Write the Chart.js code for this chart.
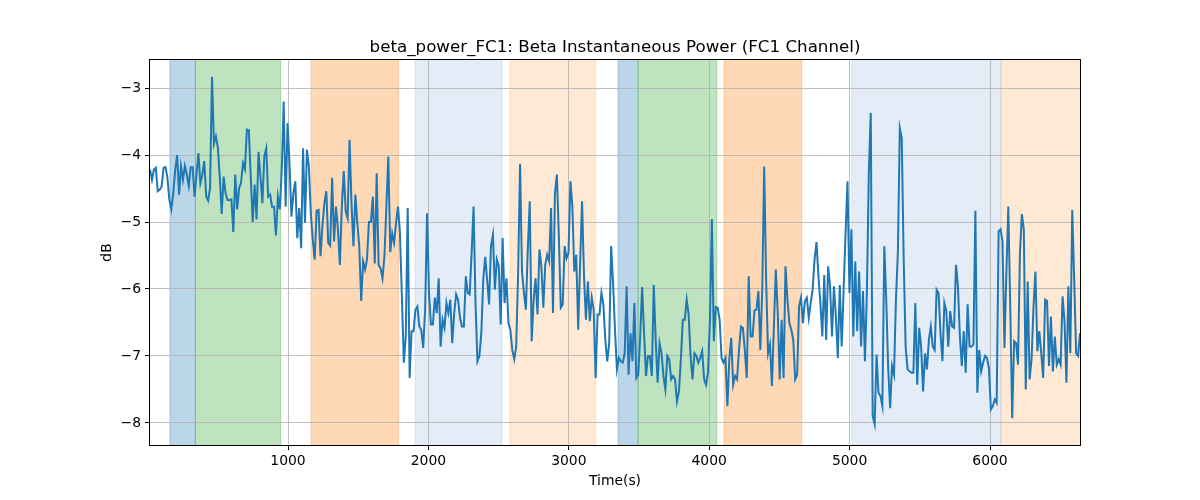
<!DOCTYPE html>
<html>
<head>
<meta charset="utf-8">
<title>beta_power_FC1</title>
<script src="https://cdn.jsdelivr.net/npm/chart.js@4.4.0/dist/chart.umd.min.js"></script>
<style>
  html, body { margin: 0; padding: 0; background: #fff; }
  canvas { display: block; }
</style>
</head>
<body>
<canvas id="betaChart" width="1200" height="500"></canvas>
<script>
// sampling grid of the recording (seconds)
const tStart = 17;
const tStep = 13.8;

// beta power, dB
const betaPower = [
  -4.22,-4.37,-4.22,-4.19,-4.54,-4.52,-4.47,-4.19,-4.18,-4.34,
  -4.67,-4.81,-4.57,-4.22,-4.00,-4.59,-4.17,-4.37,-4.16,-4.29,
  -4.46,-4.18,-4.18,-4.62,-4.29,-3.97,-4.42,-4.29,-4.09,-4.62,
  -4.68,-4.49,-2.83,-3.83,-3.72,-3.88,-4.32,-4.88,-4.32,-4.57,
  -4.67,-4.67,-4.66,-5.15,-4.29,-4.81,-4.49,-4.41,-4.12,-4.21,
  -3.62,-3.63,-4.32,-5.00,-4.44,-4.96,-3.95,-4.32,-4.72,-4.02,
  -3.90,-4.62,-4.59,-4.77,-4.77,-5.20,-4.62,-4.81,-4.22,-3.20,
  -4.77,-3.52,-4.12,-4.92,-4.57,-4.39,-5.24,-4.79,-5.39,-3.90,
  -5.01,-3.92,-4.17,
  -4.87,-5.26,-5.56,-4.83,-4.82,-5.51,-5.06,-4.72,-4.54,-5.31,
  -5.35,-4.34,-5.29,-4.77,-5.11,-5.64,-4.77,-4.24,-4.84,-4.94,
  -3.77,-4.72,-5.36,-4.59,-5.01,-5.36,-6.18,-5.59,-5.71,-5.56,
  -5.00,-5.00,-4.62,-5.62,-4.27,-5.64,-5.69,-5.84,-5.51,-4.77,
  -4.02,-5.45,-5.17,-5.31,-5.01,-4.77,-5.16,-6.11,-7.10,-6.71,
  -4.79,-7.33,-6.63,-6.63,-6.31,-6.26,-6.56,-6.61,-6.88,-6.31,
  -4.87,-6.06,-6.53,-6.53,-6.13,-6.36,-5.84,-6.86,-6.46,-6.58,
  -6.21,-6.36,-6.16,-6.81,-6.36,-6.08,-6.16,
  -6.43,-6.56,-6.56,-5.81,-6.06,-6.08,-5.46,-4.77,-6.21,-7.08,
  -7.00,-6.66,-5.86,-5.52,-5.86,-6.23,-5.36,-5.19,-6.01,-5.56,
  -5.66,-6.53,-5.24,-6.21,-5.84,-6.51,-6.61,-6.91,-7.05,-6.86,
  -5.76,-4.13,-5.74,-6.06,-6.31,-5.39,-4.69,-6.78,-6.16,-5.84,
  -6.38,-5.41,-5.66,-6.28,-5.64,-5.49,-5.59,-4.79,-6.36,-4.57,
  -4.29,-5.19,-6.28,-6.23,-5.36,-5.54,-5.46,-4.39,-4.77,-5.74,
  -5.49,-6.61,-5.61,-4.69,-5.81,-6.46,-5.89,-6.48,-6.13,-6.31,
  -7.33,-6.38,-6.38,-6.06,-6.23,-6.76,-7.08,-6.81,
  -5.36,-5.91,-6.61,-7.20,-7.03,-7.08,-7.10,-6.96,-5.96,-7.28,
  -6.66,-7.08,-6.21,-7.33,-7.28,-6.71,-5.97,-6.66,-7.30,-7.00,
  -7.00,-7.30,-5.94,-6.76,-7.40,-6.81,-6.96,-7.30,-7.50,-7.00,
  -7.05,-7.35,-7.30,-7.35,-7.68,-7.53,-7.05,-6.46,-6.46,-6.16,
  -6.38,-7.00,-7.35,-6.96,-7.00,-7.10,-7.03,-6.93,-7.35,-7.43,
  -7.25,-6.46,-4.96,-6.78,-6.27,-6.28,-6.46,-7.03,-7.10,-7.03,
  -7.75,-7.05,-6.73,-7.43,-7.30,-7.35,-6.91,-6.56,-6.58,-6.91,
  -7.33,-5.81,-6.71,-6.71,-6.32,-6.31,-6.03,-6.91,-6.01,
  -4.17,-5.86,-6.96,-6.83,-7.45,-6.56,-5.71,-6.36,-7.35,-6.46,
  -7.33,-5.66,-6.16,-6.51,-6.61,-6.76,-7.35,-7.28,-6.26,-6.13,
  -6.51,-6.18,-6.13,-6.43,-6.21,-6.01,-5.56,-5.30,-5.81,-6.21,
  -6.71,-5.79,-6.76,-5.66,-5.96,-6.71,-5.96,-6.41,-7.03,-5.94,
  -6.86,-6.01,-5.16,-4.39,-6.06,-5.11,-6.71,-5.59,-6.63,-5.74,
  -6.86,-6.03,-7.08,-6.06,-4.27,-3.37,-7.90,-8.02,-6.98,-7.55,
  -7.60,-7.75,-5.36,-6.16,-7.18,-7.78,-7.15,-7.28,-6.16,-5.46,
  -3.60,-3.75,-5.56,-6.86,-7.20,-7.23,-7.25,-7.25,-6.21,
  -7.43,-6.58,-6.86,-7.53,-6.96,-7.20,-6.76,-6.56,-6.86,-6.91,
  -6.01,-6.06,-6.66,-7.08,-6.21,-6.33,-6.86,-6.33,-6.56,-6.58,
  -5.64,-5.96,-6.71,-7.15,-6.63,-7.25,-6.23,-6.86,-6.86,-6.83,
  -4.83,-7.55,-6.91,-7.23,-7.10,-7.00,-7.03,-7.18,-7.80,-7.75,
  -7.65,-7.70,-5.14,-5.11,-5.29,-6.88,-5.76,-4.77,-6.26,-7.93,
  -6.78,-6.81,-7.13,-5.46,-4.88,-5.11,-7.50,-5.89,-7.35,-7.05,
  -6.26,-5.74,-6.93,-6.63,-6.96,-7.33,-6.16,-6.18,-7.15,-6.41,
  -7.23,-6.71,-7.13,-7.05,-7.13,-6.11,-6.48,-7.40,-5.96,-6.96,
  -4.82,-5.86,-6.96,-7.00,-6.66
];

// shaded epochs (seconds)
const spanStarts = [159, 340, 1164, 1905, 2581, 3351, 3493, 4106, 5015, 6078];
const spanEnds   = [340, 948, 1788, 2524, 3192, 3493, 4054, 4659, 6078, 6700];
const spanKinds  = ['blue', 'green', 'orange', 'paleBlue', 'paleOrange', 'blue', 'green', 'orange', 'paleBlue', 'paleOrange'];

// axis ticks
const xTicks = [1000, 2000, 3000, 4000, 5000, 6000];
const yTicks = [-8, -7, -6, -5, -4, -3];

const spanColors = {
  blue: 'rgba(31,119,180,0.3)',
  green: 'rgba(44,160,44,0.3)',
  orange: 'rgba(255,127,14,0.3)',
  paleBlue: 'rgba(70,130,200,0.15)',
  paleOrange: 'rgba(255,127,14,0.18)'
};

const points = betaPower.map((v, i) => ({ x: tStart + i * tStep, y: v }));

const FONT = "'DejaVu Sans', sans-serif";

// axvspan-like shading, drawn under the grid
const spanPlugin = {
  id: 'spans',
  beforeDraw(chart) {
    const { ctx, chartArea: a, scales: { x } } = chart;
    ctx.save();
    ctx.beginPath();
    ctx.rect(a.left, a.top, a.right - a.left, a.bottom - a.top);
    ctx.clip();
    spanStarts.forEach((s, i) => {
      const x0 = x.getPixelForValue(s);
      const x1 = x.getPixelForValue(spanEnds[i]);
      ctx.fillStyle = spanColors[spanKinds[i]];
      ctx.fillRect(x0, a.top, x1 - x0, a.bottom - a.top);
      ctx.strokeStyle = spanColors[spanKinds[i]];
      ctx.lineWidth = 1;
      ctx.strokeRect(x0, a.top - 1, x1 - x0, a.bottom - a.top + 2);
    });
    ctx.restore();
  }
};

// frame + titles in matplotlib style
const framePlugin = {
  id: 'frame',
  afterDraw(chart) {
    const { ctx, chartArea: a } = chart;
    ctx.save();
    ctx.strokeStyle = '#000';
    ctx.lineWidth = 1;
    ctx.strokeRect(a.left - 0.5, a.top - 0.5, a.right - a.left + 1, a.bottom - a.top + 1);

    ctx.fillStyle = '#000';
    ctx.textAlign = 'center';
    ctx.textBaseline = 'alphabetic';
    ctx.font = '16.7px ' + FONT;
    ctx.fillText('beta_power_FC1: Beta Instantaneous Power (FC1 Channel)', (a.left + a.right) / 2, 52);

    ctx.font = '13.9px ' + FONT;
    ctx.fillText('Time(s)', (a.left + a.right) / 2, 485);

    ctx.translate(111, (a.top + a.bottom) / 2);
    ctx.rotate(-Math.PI / 2);
    ctx.fillText('dB', 0, 0);
    ctx.restore();
  }
};

const config = {
  type: 'line',
  data: {
    datasets: [{
      label: 'beta_power_FC1',
      data: points,
      borderColor: '#1f77b4',
      borderWidth: 2,
      pointRadius: 0,
      tension: 0,
      fill: false
    }]
  },
  options: {
    responsive: false,
    animation: false,
    devicePixelRatio: 1,
    layout: { padding: { left: 0, right: 120, top: 60, bottom: 0 } },
    plugins: {
      legend: { display: false },
      tooltip: { enabled: false },
      title: { display: false }
    },
    scales: {
      x: {
        type: 'linear',
        min: 17,
        max: 6641,
        afterBuildTicks: (scale) => { scale.ticks = xTicks.map(v => ({ value: v })); },
        afterFit: (scale) => { scale.height = 55; },
        grid: { color: '#b0b0b0', lineWidth: 0.8, tickColor: '#000', tickLength: 5, tickWidth: 1 },
        border: { display: false },
        ticks: { color: '#000', font: { family: FONT, size: 13.9 }, padding: 3, maxRotation: 0, callback: v => String(v) }
      },
      y: {
        type: 'linear',
        min: -8.33,
        max: -2.58,
        afterBuildTicks: (scale) => { scale.ticks = yTicks.map(v => ({ value: v })); },
        afterFit: (scale) => { scale.width = 150; },
        grid: { color: '#b0b0b0', lineWidth: 0.8, tickColor: '#000', tickLength: 5, tickWidth: 1 },
        border: { display: false },
        ticks: { color: '#000', font: { family: FONT, size: 13.9 }, padding: 4, callback: v => '\u2212' + Math.abs(v) }
      }
    }
  },
  plugins: [spanPlugin, framePlugin]
};

const ctx = document.getElementById('betaChart').getContext('2d');
const betaChart = new Chart(ctx, config);
</script>
</body>
</html>
